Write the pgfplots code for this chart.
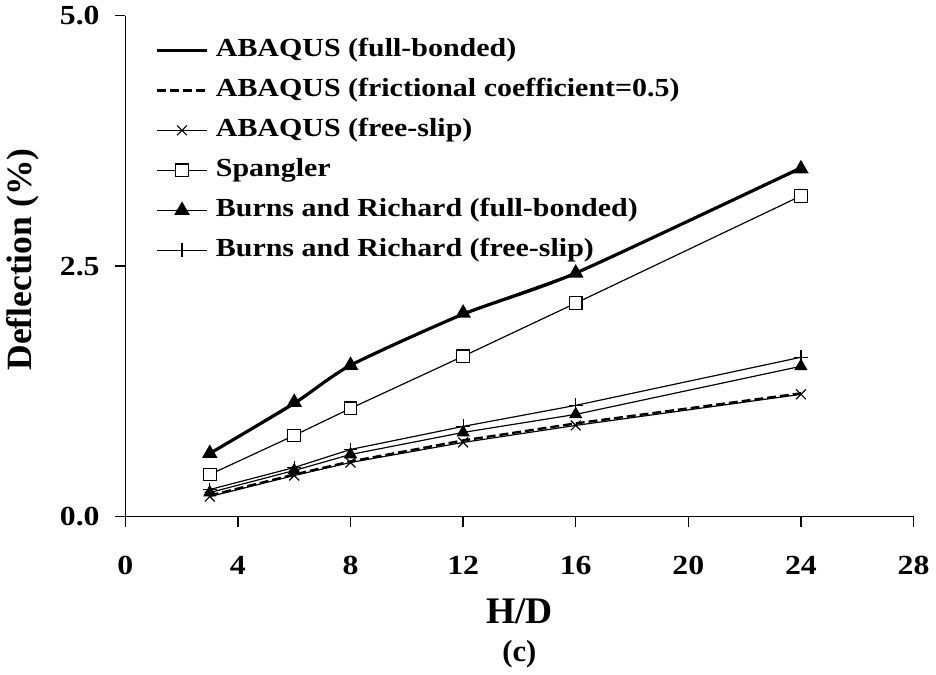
\documentclass[border=0pt]{standalone}
\usepackage{fontspec}
\setmainfont{Liberation Serif}
\newfontfamily\wide{Liberation Serif}[FakeStretch=1.15]
\usepackage{pgfplots}
\pgfplotsset{compat=1.18}
\begin{document}
\begin{tikzpicture}
\begin{axis}[
  at={(0,0)}, anchor=south west,
  scale only axis, width=398bp, height=253bp,
  xmin=0, xmax=28, ymin=0, ymax=5,
  axis lines=left,
  axis line style={-, line width=0.65bp, black},
  tick align=outside,
  major tick length=5bp,
  tick style={line width=0.65bp, black},
  xtick={0,4,...,28},
  ytick={0,2.5,5},
  /pgf/number format/assume math mode=true,
  yticklabel style={/pgf/number format/fixed, /pgf/number format/fixed zerofill, /pgf/number format/precision=1},
  ticklabel style={font=\wide\bfseries\fontsize{14}{14}\selectfont},
  xticklabel style={anchor=center, yshift=-24.5bp+5bp},
  yticklabel style={/tikz/inner sep=0pt, anchor=east, xshift=-12.8bp+5bp},
  xlabel={H/D},
  xlabel style={font=\bfseries\fontsize{19}{19}\selectfont, at={(axis description cs:0.5,0)}, anchor=center, yshift=-47.7bp},
  ylabel={Deflection (\%)},
  ylabel style={font=\bfseries\fontsize{18}{18}\selectfont, at={(axis description cs:-0.13,0.513)}, anchor=center},
  clip=false,
  legend cell align=left,
  legend image code/.code={\draw[mark repeat=2,mark phase=2,#1] plot coordinates {(0bp,0bp) (12.5bp,0bp) (25bp,0bp)};},
  legend style={at={(rel axis cs:0.038,0.956)}, anchor=north west, draw=none, fill=none,
    inner sep=0pt, row sep=7.7bp, column sep=3.8bp,
    nodes={inner sep=0pt, text height=9.5bp, text depth=3bp},
    font=\wide\bfseries\fontsize{13.2}{13.2}\selectfont},
]
% ABAQUS full-bonded
\addplot[black, line width=1.6bp, smooth, tension=0.4, no marks] coordinates {
  (3,0.63) (6,1.13) (8,1.51) (12,2.02) (16,2.43) (24,3.48)};
\addlegendentry{ABAQUS (full-bonded)}
% ABAQUS frictional 0.5
\addplot[black, line width=1.2bp, dash pattern=on 4.5bp off 2bp, no marks] coordinates {
  (3,0.21) (6,0.42) (8,0.55) (12,0.76) (16,0.93) (24,1.23)};
\addlegendentry{ABAQUS (frictional coefficient=0.5)}
% ABAQUS free-slip
\addplot[black, line width=0.6bp, mark=x, mark size=3.5bp, mark options={solid, line width=0.6bp}] coordinates {
  (3,0.20) (6,0.41) (8,0.54) (12,0.74) (16,0.91) (24,1.22)};
\addlegendentry{ABAQUS (free-slip)}
% Spangler
\addplot[black, line width=0.6bp, mark=square*, mark size=3.2bp, mark options={solid, fill=white, line width=0.6bp}] coordinates {
  (3,0.42) (6,0.81) (8,1.08) (12,1.60) (16,2.13) (24,3.20)};
\addlegendentry{Spangler}
% Burns and Richard full-bonded
\addplot[black, line width=0.75bp, mark=triangle*, mark size=3.8bp, mark options={solid, fill=black}] coordinates {
  (3,0.63) (6,1.14) (8,1.51) (12,2.03) (16,2.43) (24,3.47)};
\addlegendentry{Burns and Richard (full-bonded)}
% Burns and Richard free-slip
\addplot[black, line width=0.6bp, mark=+, mark size=3.5bp, mark options={solid, line width=0.6bp}] coordinates {
  (3,0.27) (6,0.49) (8,0.67) (12,0.90) (16,1.11) (24,1.59)};
\addlegendentry{Burns and Richard (free-slip)}
% second triangle series (not in legend)
\addplot[black, line width=0.6bp, mark=triangle*, mark size=3.3bp, mark options={solid, fill=black}, forget plot] coordinates {
  (3,0.24) (6,0.46) (8,0.62) (12,0.84) (16,1.02) (24,1.50)};
\node[font=\bfseries\fontsize{15.5}{15.5}\selectfont, anchor=center] at (rel axis cs:0.5,0) [yshift=-69.5bp] {(c)};
\end{axis}
\path (-62.85bp,-74.15bp) rectangle (405.15bp,260.85bp);
\end{tikzpicture}
\end{document}
